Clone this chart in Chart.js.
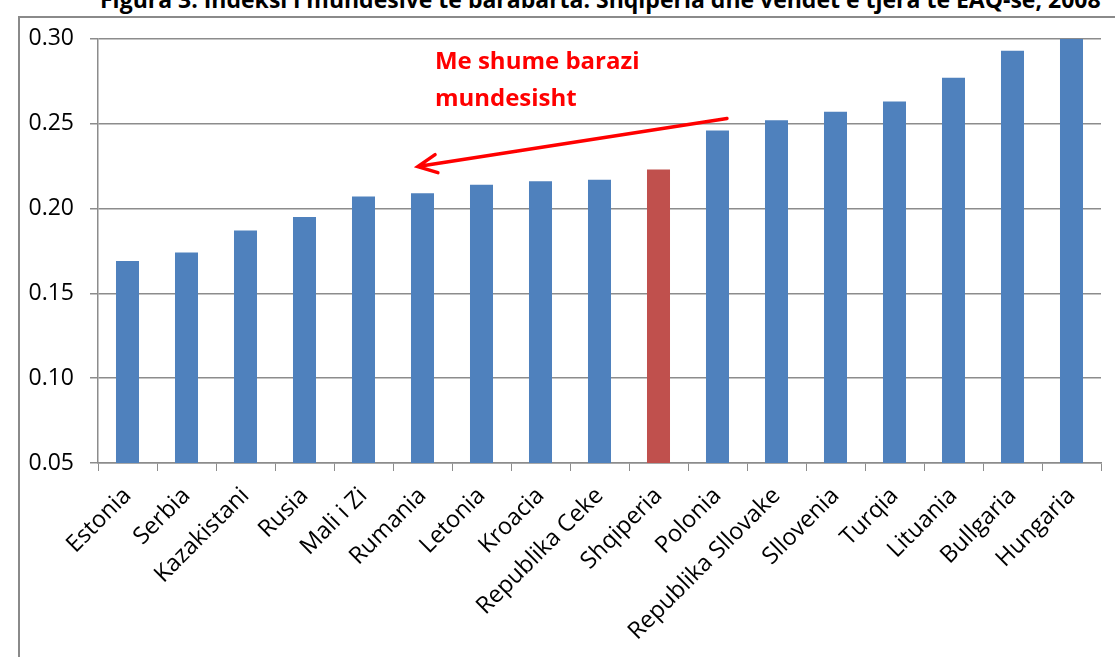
<!DOCTYPE html>
<html>
<head>
<meta charset="utf-8">
<script src="https://cdn.jsdelivr.net/npm/chart.js@4.4.1/dist/chart.umd.min.js"></script>
<style>
  body { margin: 0; background: #fff; overflow: hidden; width: 1115px; height: 657px; position: relative; }
  #title { position: absolute; left: 100px; top: -17px; white-space: nowrap; font: bold 23px "Open Sans", sans-serif; color: #000; }
  #box { position: absolute; left: 18px; top: 16px; width: 1200px; height: 700px; border: 2px solid #8a8a8a; }
  #wrap { position: absolute; left: 20px; top: 9px; width: 1095px; height: 648px; }
</style>
</head>
<body>
<div id="title">Figura 3: Indeksi i mundesive te barabarta: Shqiperia dhe vendet e tjera te EAQ-se, 2008</div>
<div id="box"></div>
<div id="wrap"><canvas id="chart"></canvas></div>
<script>
const countries = ["Estonia", "Serbia", "Kazakistani", "Rusia", "Mali i Zi", "Rumania", "Letonia", "Kroacia",
  "Republika Ceke", "Shqiperia", "Polonia", "Republika Sllovake", "Sllovenia", "Turqia", "Lituania", "Bullgaria", "Hungaria"];
const indexValues = [0.169, 0.174, 0.187, 0.195, 0.207, 0.209, 0.214, 0.216,
  0.217, 0.223, 0.246, 0.252, 0.257, 0.263, 0.277, 0.293, 0.30];
const highlight = "Shqiperia";
const yTicks = [0.05, 0.10, 0.15, 0.20, 0.25, 0.30];

// annotation: arrow from Polonia side back toward Rumania
const noteLines = ["Me shume barazi", "mundesisht"];
const arrowFrom = { x: 10.16, y: 0.253 };
const arrowTo = { x: 4.92, y: 0.2247 };
const notePos = { x: 5.21, y: 0.2865, lineStep: 0.0218 };

const BLUE = "#4f81bd";
const RED = "#c0504d";
const GRID = "#8c8c8c";

const notePlugin = {
  id: "note",
  afterDraw(chart) {
    const ctx = chart.ctx;
    const xs = chart.scales.x, ys = chart.scales.y;
    const x1 = xs.getPixelForValue(arrowFrom.x), y1 = ys.getPixelForValue(arrowFrom.y);
    const x2 = xs.getPixelForValue(arrowTo.x), y2 = ys.getPixelForValue(arrowTo.y);
    ctx.save();
    ctx.strokeStyle = "#ff0000";
    ctx.lineWidth = 3.5;
    ctx.lineCap = "round";
    ctx.beginPath();
    ctx.moveTo(x1, y1);
    ctx.lineTo(x2, y2);
    const ang = Math.atan2(y1 - y2, x1 - x2);
    const head = 21;
    ctx.moveTo(x2 + head * Math.cos(ang - 0.45), y2 + head * Math.sin(ang - 0.45));
    ctx.lineTo(x2, y2);
    ctx.lineTo(x2 + head * Math.cos(ang + 0.45), y2 + head * Math.sin(ang + 0.45));
    ctx.stroke();
    ctx.fillStyle = "#ff0000";
    ctx.font = "bold 24px 'Open Sans', sans-serif";
    ctx.textBaseline = "middle";
    ctx.textAlign = "left";
    const tx = xs.getPixelForValue(notePos.x);
    noteLines.forEach((line, i) => {
      ctx.fillText(line, tx, ys.getPixelForValue(notePos.y - i * notePos.lineStep));
    });
    ctx.restore();
  }
};

new Chart(document.getElementById("chart"), {
  type: "bar",
  data: {
    labels: countries,
    datasets: [{
      data: indexValues,
      backgroundColor: countries.map(c => c === highlight ? RED : BLUE),
      borderWidth: 0,
      barPercentage: 0.39,
      categoryPercentage: 1.0
    }]
  },
  options: {
    responsive: true,
    maintainAspectRatio: false,
    animation: false,
    layout: { padding: { top: 0, right: 14, left: 0, bottom: 0 } },
    plugins: { legend: { display: false }, tooltip: { enabled: false } },
    scales: {
      x: {
        offset: true,
        grid: { offset: true, drawOnChartArea: false, color: GRID, tickLength: 8, tickColor: GRID },
        border: { color: GRID, width: 1.5 },
        ticks: {
          color: "#000",
          font: { family: "'Open Sans', sans-serif", size: 23.5 },
          minRotation: 45, maxRotation: 45, autoSkip: false, padding: 11
        },
        afterFit(scale) { scale.height = 194; }
      },
      y: {
        min: 0.05, max: 0.30,
        afterBuildTicks(scale) { scale.ticks = yTicks.map(v => ({ value: v })); },
        grid: { color: GRID, lineWidth: 1.5, tickLength: 8, tickColor: GRID },
        border: { color: GRID, width: 1.5 },
        ticks: {
          color: "#000",
          font: { family: "'Open Sans', sans-serif", size: 23 },
          padding: 16,
          callback: v => v.toFixed(2)
        },
        afterFit(scale) { scale.width = 78; }
      }
    }
  },
  plugins: [notePlugin]
});
</script>
</body>
</html>
